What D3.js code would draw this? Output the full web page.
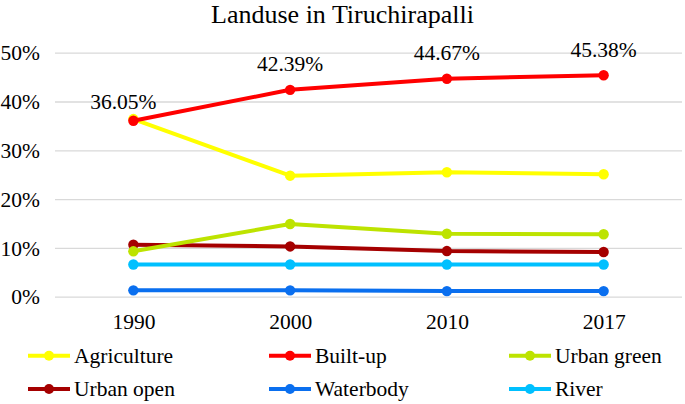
<!DOCTYPE html>
<html>
<head>
<meta charset="utf-8">
<script src="https://cdn.jsdelivr.net/npm/d3@7"></script>
</head>
<body style="margin:0;background:#fff">
<svg id="chart" width="685" height="404" font-family="Liberation Serif" style="display:block"></svg>
<script>
const years = ["1990", "2000", "2010", "2017"];
const agriculture = [36.4, 24.8, 25.5, 25.1];
const builtUp = [36.05, 42.39, 44.67, 45.38];
const urbanGreen = [9.3, 14.9, 12.9, 12.8];
const urbanOpen = [10.65, 10.3, 9.35, 9.15];
const waterbody = [1.3, 1.3, 1.15, 1.15];
const river = [6.6, 6.6, 6.6, 6.6];
const yTicks = [0, 10, 20, 30, 40, 50];
const seriesNames = ["Agriculture", "Built-up", "Urban green", "Urban open", "Waterbody", "River"];
const seriesColors = ["#FFFF00", "#FF0000", "#BDE300", "#A50000", "#0A6FEF", "#00C0FF"];
const chartTitle = "Landuse in Tiruchirapalli";

const FONT = "Liberation Serif";
const seriesValues = [agriculture, builtUp, urbanGreen, urbanOpen, waterbody, river];
const series = seriesNames.map((n, i) => ({ name: n, color: seriesColors[i], values: seriesValues[i] }));
const drawOrder = [4, 5, 3, 2, 0, 1];

const svg = d3.select("#chart");
const plotLeft = 55, plotRight = 682, plotTop = 52.7, plotBottom = 296.7;

const x = d3.scalePoint().domain(years).range([plotLeft, plotRight]).padding(0.5);
const y = d3.scaleLinear().domain([0, 50]).range([plotBottom, plotTop]);

svg.append("text").attr("x", 342.5).attr("y", 23).attr("text-anchor", "middle")
  .attr("font-family", FONT).attr("font-size", "26px").attr("fill", "#000").text(chartTitle);

const yAxis = d3.axisLeft(y).tickValues(yTicks).tickSize(-(plotRight - plotLeft)).tickFormat(d => d + "%");
const gy = svg.append("g").attr("transform", `translate(${plotLeft},0)`).call(yAxis)
  .attr("font-family", FONT).attr("font-size", "21.5px");
gy.select(".domain").remove();
gy.selectAll(".tick line").attr("stroke", "#d9d9d9").attr("stroke-width", 1.3);
gy.selectAll(".tick text").attr("x", -15).attr("dy", "0.33em")
  .attr("font-family", FONT).attr("font-size", "21.5px").attr("fill", "#000");

const xAxis = d3.axisBottom(x).tickSize(0);
const gx = svg.append("g").attr("transform", `translate(0,${plotBottom})`).call(xAxis)
  .attr("font-family", FONT).attr("font-size", "21.5px");
gx.select(".domain").remove();
gx.selectAll(".tick text").attr("y", 32).attr("dy", 0)
  .attr("font-family", FONT).attr("font-size", "21.5px").attr("fill", "#000");

const line = d3.line().x((d, i) => x(years[i])).y(d => y(d));
drawOrder.forEach(idx => {
  const s = series[idx];
  const g = svg.append("g");
  g.append("path").attr("d", line(s.values)).attr("fill", "none")
    .attr("stroke", s.color).attr("stroke-width", 4).attr("stroke-linejoin", "round");
  g.selectAll("circle").data(s.values).enter().append("circle")
    .attr("cx", (d, i) => x(years[i])).attr("cy", d => y(d)).attr("r", 5.2).attr("fill", s.color);
});

const labelDx = [-10, 0, 0, 0];
const labelDy = [-12, -18.5, -18.5, -18.5];
svg.append("g").selectAll("text").data(builtUp).enter().append("text")
  .attr("x", (d, i) => x(years[i]) + labelDx[i])
  .attr("y", (d, i) => y(d) + labelDy[i])
  .attr("text-anchor", "middle").attr("font-family", FONT).attr("font-size", "21.5px").attr("fill", "#000")
  .text(d => d.toFixed(2) + "%");

const legX = [28, 269, 509];
const legY = [355.7, 389];
const leg = svg.append("g");
series.forEach((s, i) => {
  const lx = legX[i % 3], ly = legY[Math.floor(i / 3)];
  leg.append("line").attr("x1", lx).attr("x2", lx + 42).attr("y1", ly).attr("y2", ly)
    .attr("stroke", s.color).attr("stroke-width", 4);
  leg.append("circle").attr("cx", lx + 21).attr("cy", ly).attr("r", 5).attr("fill", s.color);
  leg.append("text").attr("x", lx + 46).attr("y", ly + 7).attr("font-family", FONT).attr("font-size", "21.5px")
    .attr("fill", "#000").text(s.name);
});
</script>
</body>
</html>
